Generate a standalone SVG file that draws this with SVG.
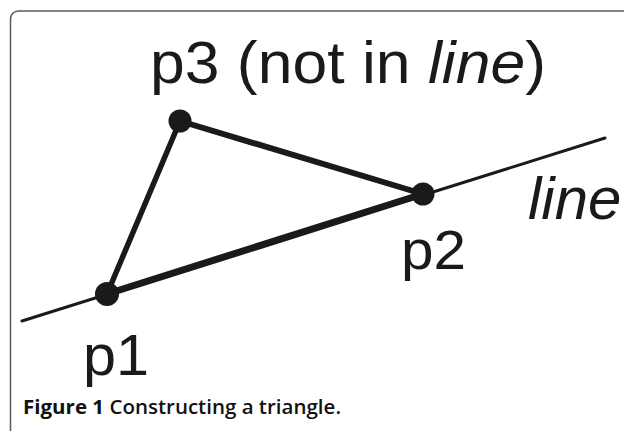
<svg xmlns="http://www.w3.org/2000/svg" width="624" height="431" viewBox="0 0 624 431">
<style>
.lbl{font-family:"Liberation Sans",Arial,sans-serif;fill:#1a1a1a}
.edge{stroke:#1a1a1a;stroke-linecap:round;fill:none}
.dot{fill:#1a1a1a}
.cap{font-family:"Open Sans","Noto Sans",sans-serif;fill:#111;font-size:19.5px}
</style>
<rect x="10.5" y="11" width="700" height="500" rx="8" fill="#fff" stroke="#5a5a5a" stroke-width="1.5"/>
<g id="connectors">
<line class="edge" x1="22" y1="321" x2="605" y2="138" stroke-width="3"/>
<line class="edge" x1="107" y1="294" x2="423" y2="194" stroke-width="7"/>
<line class="edge" x1="107" y1="294" x2="180" y2="121" stroke-width="5.5"/>
<line class="edge" x1="180" y1="121" x2="423" y2="194" stroke-width="6"/>
</g>
<g id="p3">
<circle class="dot" cx="180" cy="121" r="11.5"/>
<text class="lbl" x="150" y="83" font-size="60" textLength="396" lengthAdjust="spacingAndGlyphs">p3 (not in <tspan font-style="italic">line</tspan>)</text>
</g>
<g id="p2">
<circle class="dot" cx="423" cy="194" r="11.5"/>
<text class="lbl" x="401" y="269" font-size="56" textLength="65" lengthAdjust="spacingAndGlyphs">p2</text>
</g>
<g id="p1">
<circle class="dot" cx="107" cy="294" r="12"/>
<text class="lbl" x="83" y="375" font-size="57" textLength="66" lengthAdjust="spacingAndGlyphs">p1</text>
</g>
<g id="line">
<text class="lbl" x="528" y="219" font-size="60" font-style="italic">line</text>
</g>
<text class="cap" x="23" y="414" textLength="318" lengthAdjust="spacingAndGlyphs"><tspan font-weight="700">Figure 1</tspan><tspan font-weight="600"> Constructing a triangle.</tspan></text>
</svg>
